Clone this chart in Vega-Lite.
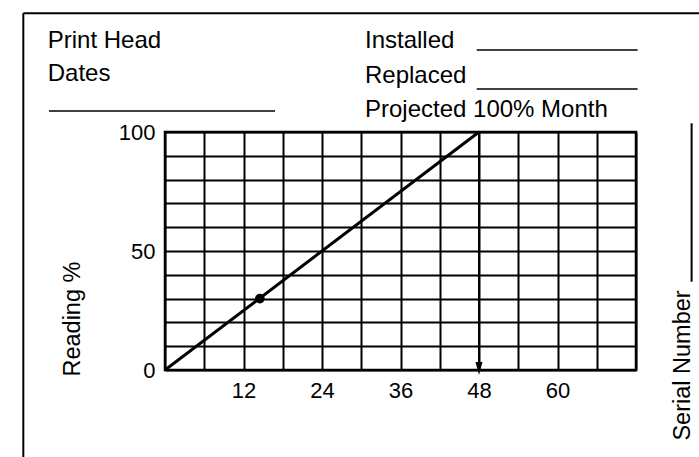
{
  "$schema": "https://vega.github.io/schema/vega-lite/v6.json",
  "autosize": {"type": "none"},
  "padding": {"left": 165, "top": 132, "right": 63, "bottom": 87},
  "width": 471,
  "height": 238,
  "background": "#ffffff",
  "config": {
    "view": {"stroke": "#000000", "strokeWidth": 2.5},
    "font": "Liberation Sans"
  },
  "datasets": {
    "trend": [
      {"month": 0, "reading": 0},
      {"month": 48, "reading": 100}
    ],
    "reading_point": [
      {"month": 14.5, "reading": 30}
    ],
    "projection": [
      {"month": 48, "reading": 100, "reading2": 1.5}
    ],
    "arrowhead": [
      {"month": 48, "reading": 0.63}
    ],
    "form_text": [
      {"text": "Print Head", "month": -17.93, "reading": 135.4},
      {"text": "Dates", "month": -17.93, "reading": 121.4},
      {"text": "Installed", "month": 30.57, "reading": 135.4},
      {"text": "Replaced", "month": 30.57, "reading": 120.5},
      {"text": "Projected 100% Month", "month": 30.57, "reading": 106.4}
    ],
    "side_text": [
      {"text": "Reading %", "month": -14.06, "reading": 21.4},
      {"text": "Serial Number", "month": 79.11, "reading": 1.9}
    ],
    "blanks_h": [
      {"month": -17.73, "month2": 16.82, "reading": 108.8},
      {"month": 47.65, "month2": 72.25, "reading": 134.45},
      {"month": 47.65, "month2": 72.25, "reading": 118.07}
    ],
    "blanks_v": [
      {"month": 80.5, "reading": 103.66, "reading2": 37.1}
    ],
    "frame_h": [
      {"month": -21.66, "month2": 90, "reading": 149.9}
    ],
    "frame_v": [
      {"month": -21.66, "reading": 149.9, "reading2": -45}
    ]
  },
  "encoding": {
    "x": {
      "field": "month",
      "type": "quantitative",
      "scale": {"domain": [0, 72], "nice": false, "zero": false},
      "axis": {
        "title": null,
        "values": [0, 6, 12, 18, 24, 30, 36, 42, 48, 54, 60, 66, 72],
        "grid": true,
        "gridColor": "#000000",
        "gridWidth": 2,
        "gridOpacity": 1,
        "domain": false,
        "ticks": false,
        "labelExpr": "datum.value % 12 == 0 && datum.value > 0 && datum.value < 72 ? datum.label : ''",
        "labelFont": "Liberation Sans",
        "labelFontSize": 22,
        "labelColor": "#000000",
        "labelPadding": 10,
        "labelOverlap": false,
        "labelFlush": false
      }
    },
    "y": {
      "field": "reading",
      "type": "quantitative",
      "scale": {"domain": [0, 100], "nice": false, "zero": false},
      "axis": {
        "title": null,
        "tickCount": 10,
        "grid": true,
        "gridColor": "#000000",
        "gridWidth": 2,
        "gridOpacity": 1,
        "domain": false,
        "ticks": false,
        "labelExpr": "datum.value % 50 == 0 ? datum.label : ''",
        "labelFont": "Liberation Sans",
        "labelFontSize": 22,
        "labelColor": "#000000",
        "labelPadding": 10,
        "labelOverlap": false,
        "labelFlush": false
      }
    }
  },
  "layer": [
    {
      "data": {"name": "trend"},
      "mark": {"type": "line", "color": "#000000", "strokeWidth": 3},
      "encoding": {}
    },
    {
      "data": {"name": "reading_point"},
      "mark": {"type": "point", "filled": true, "color": "#000000", "opacity": 1, "size": 95, "shape": "circle"},
      "encoding": {}
    },
    {
      "data": {"name": "projection"},
      "mark": {"type": "rule", "color": "#000000", "strokeWidth": 2},
      "encoding": {"y2": {"field": "reading2"}}
    },
    {
      "data": {"name": "arrowhead"},
      "mark": {"type": "point", "filled": true, "color": "#000000", "opacity": 1, "size": 169, "shape": "M-0.54,-1L0.54,-1L0,1Z"},
      "encoding": {}
    },
    {
      "data": {"name": "form_text"},
      "mark": {"type": "text", "align": "left", "baseline": "alphabetic", "font": "Liberation Sans", "fontSize": 24, "color": "#000000"},
      "encoding": {"text": {"field": "text"}}
    },
    {
      "data": {"name": "side_text"},
      "mark": {"type": "text", "align": "center", "baseline": "middle", "angle": 270, "font": "Liberation Sans", "fontSize": 23.5, "color": "#000000"},
      "encoding": {"text": {"field": "text"}}
    },
    {
      "data": {"name": "blanks_h"},
      "mark": {"type": "rule", "color": "#000000", "strokeWidth": 1.5},
      "encoding": {"x2": {"field": "month2"}}
    },
    {
      "data": {"name": "blanks_v"},
      "mark": {"type": "rule", "color": "#000000", "strokeWidth": 2},
      "encoding": {"y2": {"field": "reading2"}}
    },
    {
      "data": {"name": "frame_h"},
      "mark": {"type": "rule", "color": "#000000", "strokeWidth": 2},
      "encoding": {"x2": {"field": "month2"}}
    },
    {
      "data": {"name": "frame_v"},
      "mark": {"type": "rule", "color": "#000000", "strokeWidth": 2},
      "encoding": {"y2": {"field": "reading2"}}
    }
  ]
}
